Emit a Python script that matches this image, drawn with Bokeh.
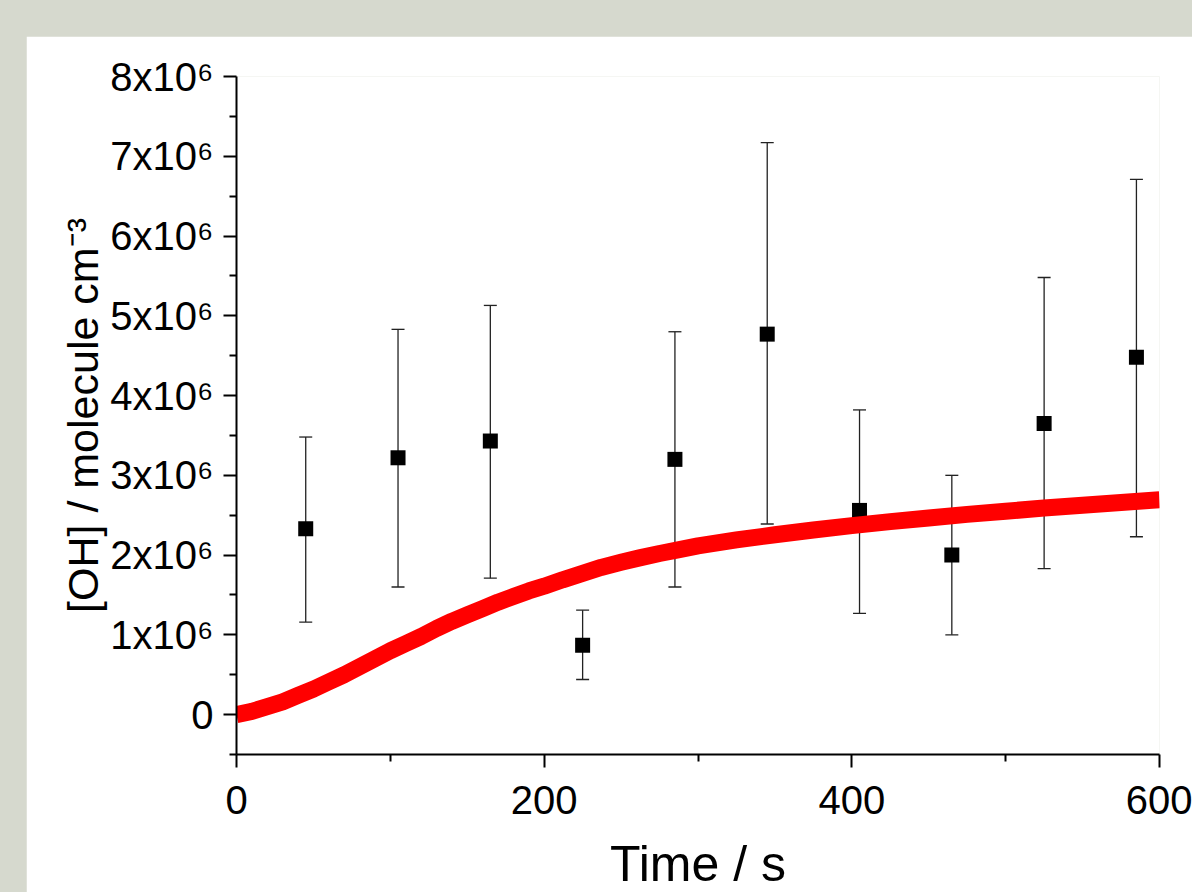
from bokeh.plotting import figure
from bokeh.models import (ColumnDataSource, Range1d, FixedTicker, Whisker, TeeHead, Spacer)
from bokeh.layouts import column, row
from bokeh.embed import file_html
from bokeh.resources import INLINE

# ---- data ----
time_s = [45, 105, 165, 225, 285, 345, 405, 465, 525, 585]
oh_meas = [2.33e6, 3.22e6, 3.43e6, 0.87e6, 3.20e6, 4.77e6, 2.56e6, 2.00e6, 3.65e6, 4.48e6]
oh_upper = [3.48e6, 4.83e6, 5.13e6, 1.31e6, 4.80e6, 7.17e6, 3.82e6, 3.00e6, 5.48e6, 6.71e6]
oh_lower = [1.16e6, 1.60e6, 1.71e6, 0.44e6, 1.60e6, 2.39e6, 1.27e6, 1.00e6, 1.83e6, 2.23e6]

model_t = [0, 10, 20, 30, 40, 50, 60, 70, 80, 90, 100, 110, 120, 130, 140, 150, 160,
           170, 180, 190, 200, 212, 225, 237, 250, 262, 275, 287, 300, 325, 350, 375,
           400, 425, 450, 475, 500, 525, 550, 575, 600]
model_oh = [0.0, 0.04e6, 0.10e6, 0.16e6, 0.24e6, 0.32e6, 0.41e6, 0.50e6, 0.60e6, 0.70e6,
            0.80e6, 0.89e6, 0.98e6, 1.08e6, 1.17e6, 1.25e6, 1.33e6, 1.41e6, 1.48e6,
            1.55e6, 1.61e6, 1.69e6, 1.77e6, 1.845e6, 1.91e6, 1.965e6, 2.02e6, 2.065e6,
            2.115e6, 2.19e6, 2.255e6, 2.315e6, 2.37e6, 2.42e6, 2.465e6, 2.51e6, 2.55e6,
            2.59e6, 2.625e6, 2.66e6, 2.695e6]

x_ticks = [0, 200, 400, 600]
x_minor = [100, 300, 500]
y_ticks = [0, 1000000, 2000000, 3000000, 4000000, 5000000, 6000000, 7000000, 8000000]
y_minor = [-500000, 500000, 1500000, 2500000, 3500000, 4500000, 5500000, 6500000, 7500000]
y_tick_labels = ["0", "1x10⁶", "2x10⁶", "3x10⁶", "4x10⁶", "5x10⁶", "6x10⁶", "7x10⁶", "8x10⁶"]

x_title = "Time / s"
y_title = "[OH] / molecule cm⁻³"

FONT = "Liberation Sans"

p = figure(width=1166, height=856, frame_width=923, frame_height=678,
           x_range=Range1d(0, 600), y_range=Range1d(-500000, 8000000),
           output_backend="svg", toolbar_location=None,
           min_border_left=210, min_border_right=33, min_border_top=40, min_border_bottom=138,
           background_fill_color="white", border_fill_color="white", outline_line_color=None)

p.xgrid.visible = False
p.ygrid.visible = False

src = ColumnDataSource(dict(t=time_s, oh=oh_meas, up=oh_upper, lo=oh_lower))
p.scatter("t", "oh", source=src, marker="square", size=15, fill_color="black", line_color=None)
p.line(model_t, model_oh, line_color="#ff0000", line_width=17, line_cap="butt", line_join="round")

w = Whisker(base="t", upper="up", lower="lo", source=src, line_color="#222222", line_width=1.3,
            upper_head=TeeHead(size=13, line_color="#222222", line_width=1.3),
            lower_head=TeeHead(size=13, line_color="#222222", line_width=1.3))
p.add_layout(w)

for ax in (p.xaxis[0], p.yaxis[0]):
    ax.axis_line_width = 2
    ax.axis_line_color = "black"
    ax.major_tick_line_width = 2
    ax.minor_tick_line_width = 2
    ax.major_tick_out = 13
    ax.major_tick_in = 0
    ax.minor_tick_out = 7
    ax.minor_tick_in = 0
    ax.major_label_text_font = FONT
    ax.major_label_text_color = "black"
    ax.major_label_text_font_size = "40px"
    ax.axis_label_text_font = FONT
    ax.axis_label_text_font_style = "normal"
    ax.axis_label_text_color = "black"

p.xaxis[0].ticker = FixedTicker(ticks=x_ticks, minor_ticks=x_minor)
p.yaxis[0].ticker = FixedTicker(ticks=y_ticks, minor_ticks=y_minor)
p.yaxis[0].major_label_overrides = {k: v for k, v in zip(y_ticks, y_tick_labels)}
p.xaxis[0].major_label_standoff = 18
p.yaxis[0].major_label_standoff = 10
p.xaxis[0].axis_label = x_title
p.yaxis[0].axis_label = y_title
p.xaxis[0].axis_label_text_font_size = "50px"
p.yaxis[0].axis_label_text_font_size = "43px"
p.xaxis[0].axis_label_standoff = 19
p.yaxis[0].axis_label_standoff = 0

layout = column(Spacer(width=1192, height=36),
                row(Spacer(width=26, height=856), p, spacing=0),
                spacing=0, styles={"background-color": "#d6d9ce"})

open("out.html", "w").write(file_html(layout, INLINE))
